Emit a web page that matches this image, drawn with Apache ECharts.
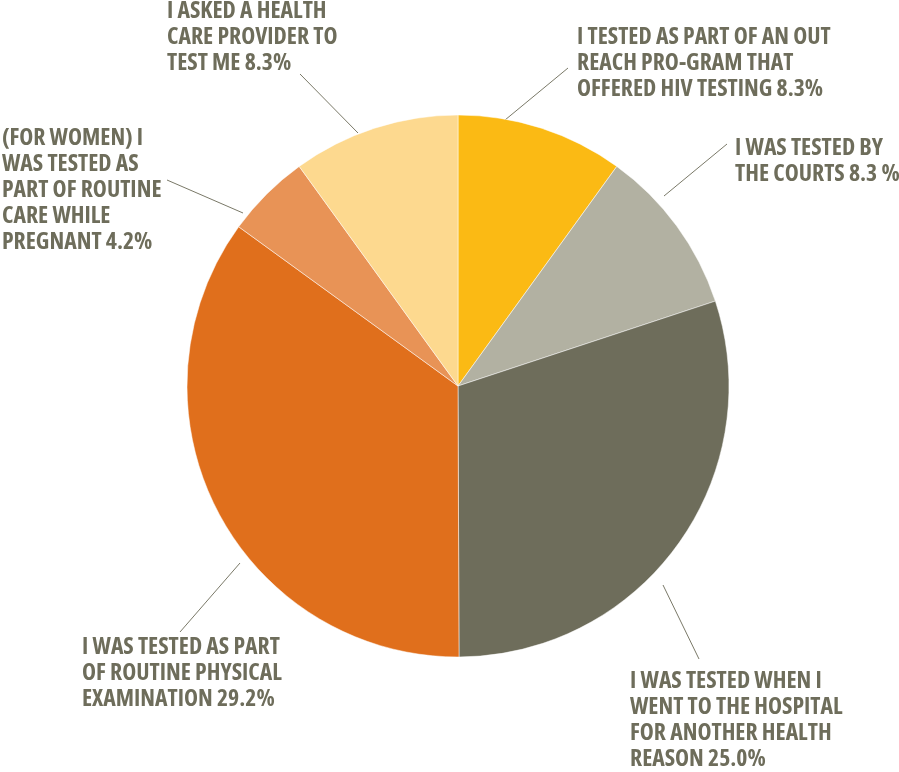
<!DOCTYPE html>
<html>
<head>
<meta charset="utf-8">
<script src="https://cdn.jsdelivr.net/npm/echarts@6/dist/echarts.min.js"></script>
<style>
  html, body { margin: 0; padding: 0; background: #ffffff; }
  #chart { width: 899px; height: 772px; }
</style>
</head>
<body>
<div id="chart"></div>
<script>
// How respondents came to be tested (share of answers, %)
const categories = [
  'I TESTED AS PART OF AN OUT\nREACH PRO-GRAM THAT\nOFFERED HIV TESTING',
  'I WAS TESTED BY\nTHE COURTS',
  'I WAS TESTED WHEN I\nWENT TO THE HOSPITAL\nFOR ANOTHER HEALTH\nREASON',
  'I WAS TESTED AS PART\nOF ROUTINE PHYSICAL\nEXAMINATION',
  '(FOR WOMEN) I\nWAS TESTED AS\nPART OF ROUTINE\nCARE WHILE\nPREGNANT',
  'I ASKED A HEALTH\nCARE PROVIDER TO\nTEST ME'
];
const values = [8.3, 8.3, 25.0, 29.2, 4.2, 8.3];
const percentSuffix = ['%', ' %', '%', '%', '%', '%'];

const sliceColors = ['#FBBA14', '#B2B1A2', '#6E6D5B', '#E06F1C', '#E89356', '#FDD98F'];
const textColor = '#6E6D5B';

// Callout placement: cap-top of the first text line, leader line from pie side to text side
const callouts = [
  { x: 577, capTop: 29,  from: [505, 120], to: [568, 68] },
  { x: 735, capTop: 140, from: [664, 196], to: [727, 144] },
  { x: 630, capTop: 673, from: [663, 585], to: [699, 659] },
  { x: 82,  capTop: 639, from: [240, 563], to: [180, 632] },
  { x: 2,   capTop: 130, from: [243, 213], to: [167, 180] },
  { x: 167, capTop: 3,   from: [358, 133], to: [300, 74] }
];
const lineHeight = 26;
const sampleLine = 'I TESTED AS PART OF AN OUT';
const sampleWidth = 254;   // width of the sample line in the layout

// Pick the narrowest bold face that is installed, then size it to the layout width
const ctx = document.createElement('canvas').getContext('2d');
function widthWith(font) {
  ctx.font = '10px monospace';
  ctx.font = font;
  return { w: ctx.measureText(sampleLine).width, ok: ctx.font !== '10px monospace' };
}
function hasFamily(family) {
  const a = widthWith('bold 40px monospace').w, b = widthWith('bold 40px "' + family + '", monospace').w;
  const c = widthWith('bold 40px serif').w, d = widthWith('bold 40px "' + family + '", serif').w;
  return a !== b || c !== d;
}
const candidates = [
  { family: 'Liberation Sans Narrow', weight: 'bold' },
  { family: 'Arial Narrow', weight: 'bold' },
  { family: 'Roboto Condensed', weight: 'bold' },
  { family: 'Open Sans Condensed', weight: 'bold' },
  { family: 'Open Sans', weight: 'bold condensed' },
  { family: 'DejaVu Sans Condensed', weight: 'bold' }
];
let face = { family: 'DejaVu Sans Condensed', weight: 'bold', w: Infinity };
candidates.forEach(cand => {
  if (!hasFamily(cand.family)) return;
  const m = widthWith(cand.weight + ' 40px "' + cand.family + '"');
  if (!m.ok) return;
  if (m.w < face.w) face = Object.assign({}, cand, { w: m.w });
});
const fontSize = Math.round(40 * sampleWidth / face.w * 10) / 10;
const capHeight = 0.72 * fontSize;

const chart = echarts.init(document.getElementById('chart'), null, { renderer: 'canvas' });

chart.setOption({
  animation: false,
  backgroundColor: '#ffffff',
  series: [{
    type: 'pie',
    center: [458, 386],
    radius: 271,
    startAngle: 90,
    clockwise: true,
    avoidLabelOverlap: false,
    itemStyle: { borderColor: '#ffffff', borderWidth: 0.5 },
    label: {
      show: true,
      position: 'outside',
      color: textColor,
      fontFamily: '"' + face.family + '", sans-serif',
      fontWeight: face.weight,
      fontSize: fontSize,
      lineHeight: lineHeight,
      align: 'left',
      formatter: p => p.name + ' ' + values[p.dataIndex].toFixed(1) + percentSuffix[p.dataIndex]
    },
    labelLine: {
      show: true,
      lineStyle: { color: '#7A7968', width: 1 }
    },
    labelLayout: p => {
      const c = callouts[p.dataIndex];
      return {
        x: c.x,
        y: c.capTop - (lineHeight - capHeight) / 2,
        align: 'left',
        verticalAlign: 'top',
        labelLinePoints: [c.from, c.to, c.to]
      };
    },
    emphasis: { disabled: true },
    data: categories.map((name, i) => ({
      name: name,
      value: values[i],
      itemStyle: { color: sliceColors[i] }
    }))
  }]
});
</script>
</body>
</html>
